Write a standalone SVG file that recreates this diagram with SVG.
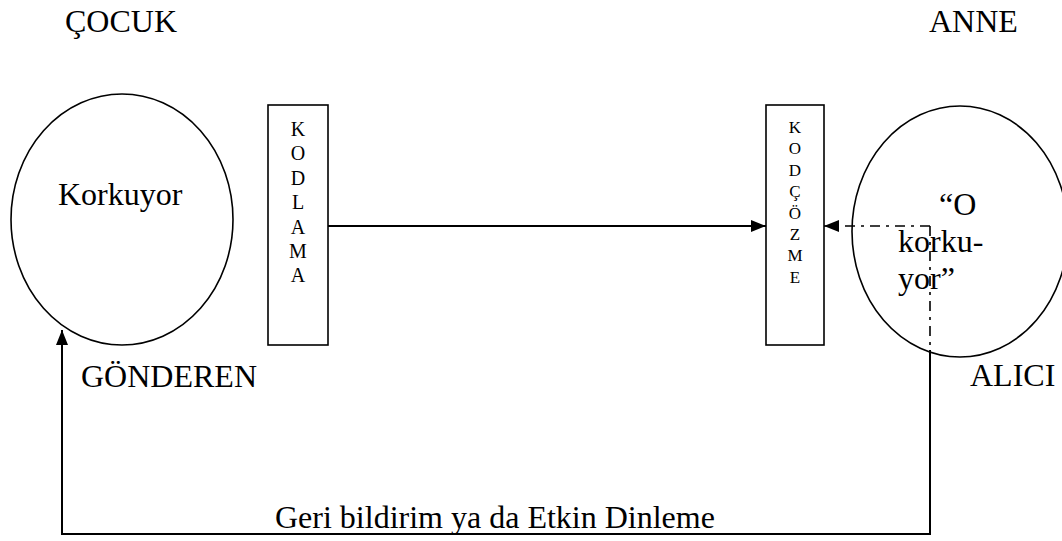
<svg xmlns="http://www.w3.org/2000/svg" width="1062" height="541" viewBox="0 0 1062 541">
  <style>
    .t { font-family: "Liberation Serif", "Times New Roman", serif; fill: #000; }
    .big { font-size: 32px; }
    .enc { font-size: 20px; text-anchor: middle; }
    .dec { font-size: 17px; text-anchor: middle; }
    .shape { fill: #fff; stroke: #000; stroke-width: 1.6; }
    .solid { fill: none; stroke: #000; stroke-width: 2; }
    .dashdot { fill: none; stroke: #000; stroke-width: 1.6; stroke-dasharray: 10 6 3 6; }
  </style>
  <defs>
    <marker id="arrow" viewBox="0 0 15 12" refX="15" refY="6" markerWidth="15" markerHeight="12" markerUnits="userSpaceOnUse" orient="auto">
      <path d="M0,0 L15,6 L0,12 z" fill="#000"/>
    </marker>
  </defs>
  <rect width="1062" height="541" fill="#fff"/>

  <!-- role headings -->
  <text class="t big" x="65" y="32">ÇOCUK</text>
  <text class="t big" x="929" y="32">ANNE</text>

  <!-- sender -->
  <g id="sender">
    <ellipse class="shape" cx="122" cy="219.5" rx="111" ry="125.5"/>
    <text class="t big" x="58" y="205">Korkuyor</text>
    <text class="t big" x="81" y="387">GÖNDEREN</text>
  </g>

  <!-- encoding box -->
  <g id="encoding">
    <rect class="shape" x="268" y="105" width="60" height="240"/>
    <text class="t enc" x="298" y="136">K</text>
    <text class="t enc" x="298" y="160.4">O</text>
    <text class="t enc" x="298" y="184.8">D</text>
    <text class="t enc" x="298" y="209.2">L</text>
    <text class="t enc" x="298" y="233.6">A</text>
    <text class="t enc" x="298" y="258">M</text>
    <text class="t enc" x="298" y="282.4">A</text>
  </g>

  <!-- decoding box -->
  <g id="decoding">
    <rect class="shape" x="766" y="105" width="58" height="240"/>
    <text class="t dec" x="795" y="133">K</text>
    <text class="t dec" x="795" y="154.4">O</text>
    <text class="t dec" x="795" y="175.8">D</text>
    <text class="t dec" x="795" y="197.2">Ç</text>
    <text class="t dec" x="795" y="218.6">Ö</text>
    <text class="t dec" x="795" y="240">Z</text>
    <text class="t dec" x="795" y="261.4">M</text>
    <text class="t dec" x="795" y="282.8">E</text>
  </g>

  <!-- receiver -->
  <g id="receiver">
    <ellipse class="shape" cx="960" cy="231.5" rx="108" ry="125.5"/>
    <text class="t big" x="939" y="215">“O</text>
    <text class="t big" x="898" y="252">korku-</text>
    <text class="t big" x="898" y="289">yor”</text>
    <text class="t big" x="970" y="386">ALICI</text>
  </g>

  <!-- connectors -->
  <g id="connectors">
    <line class="solid" x1="328" y1="226" x2="766" y2="226" marker-end="url(#arrow)"/>
    <line class="dashdot" x1="930" y1="226" x2="824" y2="226" marker-end="url(#arrow)"/>
    <line class="dashdot" x1="930" y1="226" x2="930" y2="350"/>
    <polyline class="solid" points="930,350 930,534 62,534 62,330" marker-end="url(#arrow)"/>
  </g>

  <text class="t big" x="275" y="528">Geri bildirim ya da Etkin Dinleme</text>
</svg>
